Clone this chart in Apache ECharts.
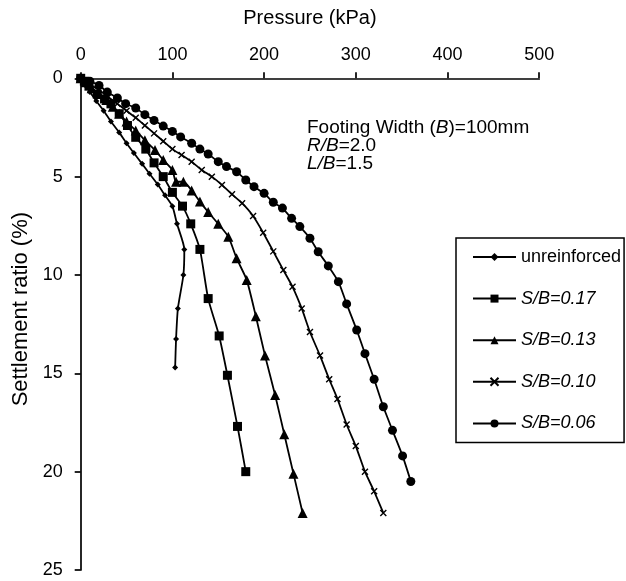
<!DOCTYPE html>
<html>
<head>
<meta charset="utf-8">
<script src="https://cdn.jsdelivr.net/npm/echarts@6/dist/echarts.min.js"></script>
<style>
html,body{margin:0;padding:0;background:#fff;}
#chart{width:626px;height:581px;}
</style>
</head>
<body>
<div id="chart"></div>
<script>
// Pressure (kPa) and settlement ratio (%) for each test
const seriesNames = ['unreinforced', 'S/B=0.17', 'S/B=0.13', 'S/B=0.10', 'S/B=0.06'];

const unrP = [0, 5, 10, 17, 25, 33, 42, 50, 58, 67, 75, 84, 92, 100, 105, 113, 112, 106, 104, 103];
const unrS = [0, 0.35, 0.7, 1.15, 1.65, 2.2, 2.75, 3.3, 3.8, 4.35, 4.85, 5.4, 5.95, 6.5, 7.4, 8.7, 10.0, 11.7, 13.25, 14.7];

const sb17P = [0, 4, 9, 18, 26, 33, 42, 51, 60, 71, 80, 90, 100, 111, 120, 130, 139, 151, 160, 171, 180];
const sb17S = [0, 0.15, 0.4, 0.8, 1.05, 1.3, 1.8, 2.4, 3.0, 3.6, 4.3, 5.0, 5.8, 6.5, 7.4, 8.7, 11.2, 13.1, 15.1, 17.7, 20.0];

const sb13P = [0, 5, 12, 20, 28, 35, 42, 50, 60, 70, 81, 90, 100, 104, 112, 121, 130, 139, 150, 161, 170, 181, 191, 201, 212, 222, 232, 242];
const sb13S = [0, 0.2, 0.5, 0.8, 1.1, 1.45, 1.8, 2.2, 2.65, 3.15, 3.65, 4.15, 4.66, 5.26, 5.26, 5.7, 6.27, 6.8, 7.4, 8.05, 9.15, 10.25, 12.1, 14.1, 16.1, 18.1, 20.1, 22.1];

const sb10P = [0, 10, 20, 30, 40, 50, 60, 70, 80, 90, 100, 110, 121, 132, 143, 154, 165, 176, 188, 199, 210, 221, 231, 241, 250, 261, 271, 280, 290, 300, 310, 320, 330];
const sb10S = [0, 0.3, 0.6, 0.95, 1.3, 1.65, 2.0, 2.4, 2.8, 3.2, 3.6, 3.9, 4.24, 4.66, 5.0, 5.42, 5.9, 6.35, 7.0, 7.85, 8.8, 9.75, 10.6, 11.7, 12.9, 14.1, 15.3, 16.3, 17.6, 18.7, 20.0, 21.0, 22.1];

const sb06P = [0, 10, 20, 29, 40, 49, 60, 70, 80, 90, 100, 109, 121, 130, 139, 150, 159, 170, 180, 189, 200, 210, 220, 230, 239, 250, 259, 270, 281, 290, 301, 310, 320, 330, 340, 351, 360];
const sb06S = [0, 0.15, 0.36, 0.7, 1.0, 1.29, 1.51, 1.85, 2.14, 2.43, 2.7, 2.98, 3.3, 3.6, 3.85, 4.24, 4.49, 4.75, 5.17, 5.51, 5.85, 6.3, 6.6, 7.12, 7.54, 8.13, 8.82, 9.54, 10.34, 11.47, 12.8, 14.0, 15.3, 16.7, 17.9, 19.2, 20.5];

const xTicks = [0, 100, 200, 300, 400, 500];
const yTicks = [0, 5, 10, 15, 20, 25];

const FONT = '"Liberation Sans", Arial, sans-serif';

function pairs(p, s) { return p.map((v, i) => [v, s[i]]); }

const crossPath = 'path://M0,0L10,10M10,0L0,10';

const styles = [
  { symbol: 'diamond', size: 6 },
  { symbol: 'rect', size: 9 },
  { symbol: 'triangle', size: 10 },
  { symbol: crossPath, size: 6, border: true },
  { symbol: 'circle', size: 9 }
];
const dataSets = [pairs(unrP, unrS), pairs(sb17P, sb17S), pairs(sb13P, sb13S), pairs(sb10P, sb10S), pairs(sb06P, sb06S)];

const chart = echarts.init(document.getElementById('chart'), null, { renderer: 'canvas' });

const ital = { fontStyle: 'italic', fontSize: 19, fontFamily: FONT, color: '#000' };

const option = {
  animation: false,
  backgroundColor: '#fff',
  textStyle: { fontFamily: FONT, color: '#000' },
  grid: { left: 80.7, top: 78.3, right: 86.8, bottom: 11, containLabel: false },
  xAxis: {
    type: 'value', position: 'top', min: xTicks[0], max: xTicks[xTicks.length - 1], interval: 100,
    name: 'Pressure (kPa)', nameLocation: 'middle', nameGap: 50,
    nameTextStyle: { fontSize: 20, fontFamily: FONT, color: '#000' },
    axisLine: { onZero: false, lineStyle: { color: '#000', width: 1.7 } },
    axisTick: { show: true, length: 6, lineStyle: { color: '#000', width: 1.7 } },
    axisLabel: { fontSize: 18, color: '#000', fontFamily: FONT, margin: 14 },
    splitLine: { show: false }
  },
  yAxis: {
    type: 'value', inverse: true, min: yTicks[0], max: yTicks[yTicks.length - 1], interval: 5,
    name: 'Settlement ratio (%)', nameLocation: 'middle', nameGap: 48,
    nameTextStyle: { fontSize: 22, fontFamily: FONT, color: '#000', padding: [0, 0, 0, 30] },
    axisLine: { onZero: false, lineStyle: { color: '#000', width: 1.7 } },
    axisTick: { show: true, length: 6, lineStyle: { color: '#000', width: 1.7 } },
    axisLabel: { fontSize: 18, color: '#000', fontFamily: FONT, margin: 18 },
    splitLine: { show: false }
  },
  legend: {
    orient: 'vertical', left: 456, top: 238,
    padding: [10, 3, 10, 16],
    borderColor: '#000', borderWidth: 1.5,
    itemWidth: 43, itemHeight: 10, itemGap: 23.6,
    data: seriesNames,
    formatter: function (n) { return n === 'unreinforced' ? n : '{i|' + n + '}'; },
    textStyle: { fontSize: 18, fontFamily: FONT, color: '#000', rich: { i: { fontStyle: 'italic', fontSize: 18, fontFamily: FONT, color: '#000' } } }
  },
  graphic: [
    { type: 'text', left: 307, top: 118, style: { text: 'Footing Width ({i|B})=100mm', font: '19px ' + FONT, fill: '#000', rich: { i: ital } } },
    { type: 'text', left: 307, top: 136, style: { text: '{i|R/B}=2.0', font: '19px ' + FONT, fill: '#000', rich: { i: ital } } },
    { type: 'text', left: 307, top: 154, style: { text: '{i|L/B}=1.5', font: '19px ' + FONT, fill: '#000', rich: { i: ital } } }
  ],
  series: seriesNames.map((name, k) => ({
    name: name,
    type: 'line',
    data: dataSets[k],
    smooth: 0.2,
    symbol: styles[k].symbol,
    symbolSize: styles[k].size,
    showAllSymbol: true,
    lineStyle: { color: '#000', width: 1.8 },
    itemStyle: styles[k].border ? { color: '#000', borderColor: '#000', borderWidth: 1.4 } : { color: '#000' },
    emphasis: { disabled: true }
  }))
};
chart.setOption(option);
</script>
</body>
</html>
